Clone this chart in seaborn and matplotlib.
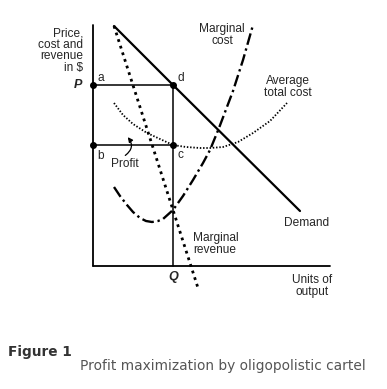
import matplotlib
matplotlib.use("Agg")
import matplotlib.pyplot as plt
import seaborn as sns

# curve points (x = units of output, y = price)
demand_x = [2.1, 8.0, 20.7]
demand_y = [24.0, 18.1, 5.5]

mr_x = [2.1, 8.0, 10.5]
mr_y = [24.0, 5.6, -2.2]

mc_x = [2.1, 2.7, 3.4, 4.0, 4.7, 5.3, 5.9, 6.5, 7.0, 8.0, 9.0, 10.0, 11.0, 11.7, 12.6, 14.0, 15.0, 16.0]
mc_y = [7.9, 7.0, 6.1, 5.4, 4.8, 4.5, 4.4, 4.5, 4.7, 5.6, 7.0, 8.6, 10.3, 11.6, 13.8, 17.5, 20.6, 24.1]

atc_x = [2.1, 3.0, 4.0, 5.4, 6.7, 8.0, 9.3, 10.7, 11.7, 13.0, 14.5, 16.0, 17.7, 19.4]
atc_y = [16.3, 15.1, 14.2, 13.3, 12.7, 12.1, 11.9, 11.8, 11.8, 11.9, 12.4, 13.3, 14.5, 16.3]

Q = 8.0
P = 18.1
C = 12.1
x_max = 23.7
y_max = 24.1

sns.set_style("white")
plt.rcParams['font.family'] = ['Liberation Sans', 'DejaVu Sans']

fig = plt.figure(figsize=(3.87, 3.89), dpi=100)
ax = fig.add_axes([0, 0, 1, 1])
ax.set_xlim(-9.3, 29.4)
ax.set_ylim(-12.3, 26.6)
ax.axis("off")

# axes
ax.plot([0, 0], [0, y_max], color="black", lw=1.3)
ax.plot([0, x_max], [0, 0], color="black", lw=1.3)

# profit rectangle and Q line
ax.plot([0, Q], [P, P], color="black", lw=1.1)
ax.plot([0, Q], [C, C], color="black", lw=1.1)
ax.plot([Q, Q], [0, P], color="black", lw=1.1)
ax.plot([0, Q, 0, Q], [P, P, C, C], "o", color="black", ms=4.0)

# curves
sns.lineplot(x=demand_x, y=demand_y, sort=False, color="black", lw=1.6, ax=ax)
sns.lineplot(x=mr_x, y=mr_y, sort=False, color="black", lw=2.0,
             linestyle=(0, (1.0, 1.5)), ax=ax)
sns.lineplot(x=mc_x, y=mc_y, sort=False, color="black", lw=1.7,
             linestyle=(0, (5, 1.6, 1, 1.6)), ax=ax)
sns.lineplot(x=atc_x, y=atc_y, sort=False, color="black", lw=1.3,
             linestyle=(0, (0.8, 1.0)), ax=ax)

fs = 8.6
ax.text(-1.0, 23.9, "Price,\ncost and\nrevenue\nin $", ha="right", va="top",
        fontsize=fs, linespacing=0.95)
ax.text(-1.1, P, "P", ha="right", va="center", fontsize=fs + 0.5,
        style="italic", fontweight="bold")
ax.text(0.4, P + 0.7, "a", ha="left", va="center", fontsize=fs)
ax.text(Q + 0.4, P + 0.7, "d", ha="left", va="center", fontsize=fs)
ax.text(0.4, C - 1.1, "b", ha="left", va="center", fontsize=fs)
ax.text(Q + 0.4, C - 1.0, "c", ha="left", va="center", fontsize=fs)
ax.text(3.15, 10.2, "Profit", ha="center", va="center", fontsize=fs)
ax.annotate("", xy=(3.3, 13.1), xytext=(3.0, 10.9),
            arrowprops=dict(arrowstyle="-|>", color="black", lw=0.9,
                            mutation_scale=7,
                            connectionstyle="arc3,rad=0.6"))
ax.text(12.9, 23.1, "Marginal\ncost", ha="center", va="center",
        fontsize=fs, linespacing=0.95)
ax.text(19.5, 17.9, "Average\ntotal cost", ha="center", va="center",
        fontsize=fs, linespacing=0.95)
ax.text(21.4, 4.3, "Demand", ha="center", va="center", fontsize=fs)
ax.text(10.0, 2.2, "Marginal\nrevenue", ha="left", va="center",
        fontsize=fs, linespacing=0.95)
ax.text(Q, -1.1, "Q", ha="center", va="center", fontsize=fs + 0.5,
        style="italic", fontweight="bold")
ax.text(21.9, -2.0, "Units of\noutput", ha="center", va="center",
        fontsize=fs, linespacing=0.95)

ax.text(-8.5, -8.6, "Figure 1", ha="left", va="center", fontsize=9.8,
        fontweight="bold", color="#333333", family="DejaVu Sans")
ax.text(-1.3, -10.0, "Profit maximization by oligopolistic cartel", ha="left",
        va="center", fontsize=9.9, color="#555555", family="DejaVu Sans")

fig.savefig("out.png", dpi=100)
